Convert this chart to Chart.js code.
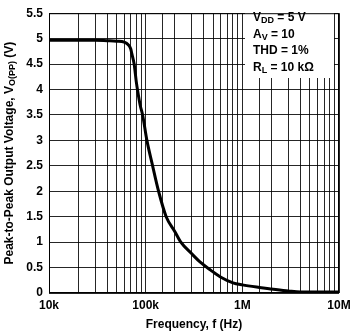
<!DOCTYPE html>
<html>
<head>
<meta charset="utf-8">
<script src="https://cdn.jsdelivr.net/npm/chart.js@4"></script>
<style>
  html, body { margin: 0; padding: 0; background: #fff; }
  #wrap { width: 350px; height: 332px; }
</style>
</head>
<body>
<div id="wrap"><canvas id="chart" width="350" height="332"></canvas></div>
<script>
// data
const freqs = [10000, 20000, 30000, 40000, 50000, 60000, 66000, 70000, 72000, 76000,
    80000, 83000, 88000, 93000, 103000, 118000, 136000, 163000, 200000, 229000,
    300000, 370000, 470000, 600000, 800000, 1000000, 1500000, 2000000, 3000000,
    4000000, 6000000, 10000000];
const volts = [4.97, 4.97, 4.97, 4.96, 4.95, 4.93, 4.88, 4.8, 4.7, 4.5,
    4.15, 3.95, 3.68, 3.5, 3.0, 2.5, 2.0, 1.5, 1.21, 1.01,
    0.77, 0.6, 0.45, 0.31, 0.2, 0.16, 0.11, 0.08, 0.04,
    0.02, 0.02, 0.02];
const xTickLabels = { 10000: "10k", 100000: "100k", 1000000: "1M", 10000000: "10M" };
const notes = [
    ["V", "DD", " = 5 V"],
    ["A", "V", " = 10"],
    ["THD = 1%", "", ""],
    ["R", "L", " = 10 k\u03A9"]
];

const FONT = "Liberation Sans, Arial, sans-serif";

// draws text pieces with subscripts, returns width
function drawSub(ctx, parts, x, y) {
    let cx = x;
    parts.forEach((p, i) => {
        if (!p) return;
        const sub = i % 2 === 1;
        ctx.font = "bold " + (sub ? 9 : 12) + "px " + FONT;
        ctx.fillText(p, cx, y + (sub ? 3 : 0));
        cx += ctx.measureText(p).width;
    });
    return cx - x;
}

const extras = {
    id: "extras",
    afterDraw(chart) {
        const ctx = chart.ctx;
        const area = chart.chartArea;
        ctx.save();
        ctx.fillStyle = "#000";
        ctx.textBaseline = "middle";

        // annotation box
        ctx.fillStyle = "#fff";
        ctx.fillRect(245, 10, 89, 68);
        ctx.fillStyle = "#000";
        notes.forEach((n, i) => {
            drawSub(ctx, n, 253, 18 + i * 16.5);
        });

        // frame
        ctx.strokeStyle = "#000";
        ctx.lineWidth = 1;
        ctx.strokeRect(area.left + 0.5, area.top + 0.5, area.right - area.left - 1, area.bottom - area.top - 1);

        // y title with subscript
        const parts = ["Peak-to-Peak Output Voltage, V", "O(PP)", " (V)"];
        ctx.translate(10, (area.top + area.bottom) / 2);
        ctx.rotate(-Math.PI / 2);
        let w = 0;
        parts.forEach((p, i) => {
            ctx.font = "bold " + (i === 1 ? 9 : 12) + "px " + FONT;
            w += ctx.measureText(p).width;
        });
        drawSub(ctx, parts, -w / 2, 0);
        ctx.restore();
    }
};

new Chart(document.getElementById("chart"), {
    type: "line",
    data: {
        datasets: [{
            data: freqs.map((f, i) => ({ x: f, y: volts[i] })),
            borderColor: "#000",
            borderWidth: 3,
            pointRadius: 0,
            cubicInterpolationMode: "monotone",
            fill: false
        }]
    },
    options: {
        responsive: false,
        animation: false,
        layout: { padding: { top: 5, right: 0, left: 0, bottom: 0 } },
        plugins: {
            legend: { display: false },
            tooltip: { enabled: false },
            title: { display: false }
        },
        scales: {
            x: {
                type: "logarithmic",
                min: 10000,
                max: 10000000,
                grid: { color: "rgba(0,0,0,0.85)", lineWidth: 1, drawTicks: false },
                border: { display: false },
                ticks: {
                    autoSkip: false,
                    maxRotation: 0,
                    padding: 5,
                    color: "#000",
                    font: { family: FONT, size: 12, weight: "bold" },
                    callback: (v) => xTickLabels[v] || ""
                },
                title: {
                    display: true,
                    text: "Frequency, f (Hz)",
                    color: "#000",
                    font: { family: FONT, size: 12, weight: "bold" },
                    padding: { top: 4, bottom: 0 }
                },
                afterFit: (s) => {
                    s.height = 39;
                    s.paddingRight = 11;
                    s.paddingLeft = 0;
                }
            },
            y: {
                min: 0,
                max: 5.5,
                grid: { color: "rgba(0,0,0,0.85)", lineWidth: 1, drawTicks: false },
                border: { display: false },
                ticks: {
                    stepSize: 0.5,
                    padding: 6,
                    color: "#000",
                    font: { family: FONT, size: 12, weight: "bold" },
                    callback: (v) => String(Math.round(v * 10) / 10)
                },
                afterFit: (s) => { s.width = 49; }
            }
        }
    },
    plugins: [extras]
});
</script>
</body>
</html>
